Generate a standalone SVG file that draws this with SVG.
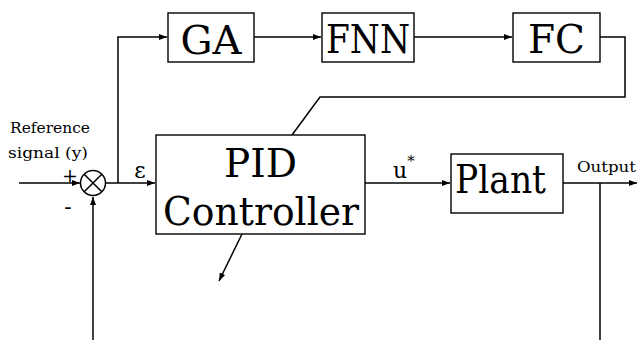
<svg xmlns="http://www.w3.org/2000/svg" width="638" height="340" viewBox="0 0 638 340">
<defs>
<marker id="ah" markerUnits="userSpaceOnUse" markerWidth="9" markerHeight="7" refX="8" refY="3" orient="auto">
<path d="M0,0 L8,3 L0,6 z" fill="#000"/>
</marker>
<style>
.box{fill:#fff;stroke:#000;stroke-width:1.4}
.ln{fill:none;stroke:#000;stroke-width:1.5}
.big{font-size:40px;fill:#000;text-anchor:middle}
.sm{font-size:14px;fill:#000}
.lab{font-size:22px;fill:#000}
</style>
</defs>
<rect width="638" height="340" fill="#fff"/>
<g id="connectors">
<path class="ln" d="M19,183 H80" marker-end="url(#ah)"/>
<path class="ln" d="M106,183 H155" marker-end="url(#ah)"/>
<path class="ln" d="M118,183 V37 H167" marker-end="url(#ah)"/>
<path class="ln" d="M254,37 H321" marker-end="url(#ah)"/>
<path class="ln" d="M414,37 H512" marker-end="url(#ah)"/>
<path class="ln" d="M600,37 H625 V97 H320 L292,135"/>
<path class="ln" d="M365,183 H450" marker-end="url(#ah)"/>
<path class="ln" d="M563,183 H637" marker-end="url(#ah)"/>
<path class="ln" d="M600,183 V340"/>
<path class="ln" d="M93,340 V197" marker-end="url(#ah)"/>
<path class="ln" d="M242,234 L219,281" marker-end="url(#ah)"/>
</g>
<g font-family="'DejaVu Serif', 'Liberation Serif', serif">
<g id="sum">
<circle cx="93" cy="183" r="12.5" fill="#fff" stroke="#000" stroke-width="1.5"/>
<path class="ln" d="M84.2,174.2 L101.8,191.8 M101.8,174.2 L84.2,191.8" stroke-width="1.3"/>
<text x="70" y="182" text-anchor="middle" font-size="19">+</text>
<text x="68" y="214" text-anchor="middle" font-size="22">-</text>
</g>
<g id="ref-label">
<text class="sm" x="10" y="133" textLength="80" lengthAdjust="spacingAndGlyphs">Reference</text>
<text class="sm" x="8" y="158" textLength="80" lengthAdjust="spacingAndGlyphs">signal (y)</text>
</g>
<g id="eps-label"><text class="lab" x="140" y="178" text-anchor="middle">ε</text></g>
<g id="u-label"><text class="lab" x="393" y="178">u<tspan font-size="15" dy="-12">*</tspan></text></g>
<g id="out-label"><text class="sm" x="577" y="172" textLength="59" lengthAdjust="spacingAndGlyphs">Output</text></g>
<g id="GA">
<rect class="box" x="168" y="13" width="86" height="49"/>
<text class="big" x="211" y="54" textLength="61" lengthAdjust="spacingAndGlyphs">GA</text>
</g>
<g id="FNN">
<rect class="box" x="322" y="13" width="92" height="49"/>
<text class="big" x="368" y="53" textLength="84" lengthAdjust="spacingAndGlyphs">FNN</text>
</g>
<g id="FC">
<rect class="box" x="513" y="13" width="87" height="49"/>
<text class="big" x="556.5" y="53" textLength="57" lengthAdjust="spacingAndGlyphs">FC</text>
</g>
<g id="PID">
<rect class="box" x="156" y="135" width="209" height="99"/>
<text class="big" x="260.5" y="177" textLength="73" lengthAdjust="spacingAndGlyphs">PID</text>
<text class="big" x="261" y="225" textLength="196" lengthAdjust="spacingAndGlyphs">Controller</text>
</g>
<g id="Plant">
<rect class="box" x="451" y="154" width="112" height="59"/>
<text class="big" x="500.5" y="193" textLength="91" lengthAdjust="spacingAndGlyphs">Plant</text>
</g>
</g>
</svg>
